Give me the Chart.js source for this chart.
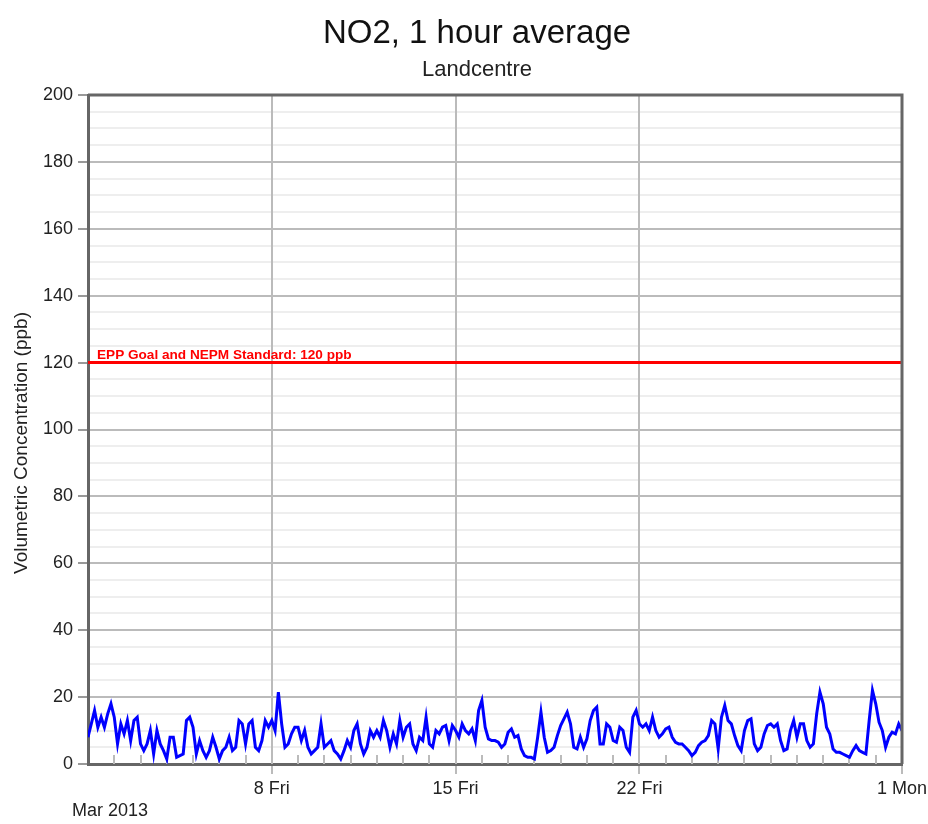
<!DOCTYPE html>
<html>
<head>
<meta charset="utf-8">
<script src="https://cdn.jsdelivr.net/npm/chart.js@4/dist/chart.umd.min.js"></script>
<style>
  body { margin: 0; background: #fff; }
  #wrap { width: 928px; height: 824px; }
</style>
</head>
<body>
<div id="wrap"><canvas id="chart" width="928" height="824"></canvas></div>
<script>
// NO2 readings, one value every 3 hours from 1 Mar 2013 00:00
const stepHours = 3
const totalHours = 744
const no2Values = [
    8,12,16,11,14,11,15,18,14,6, 12,9,13,7,13,14,6,4,6,10, 3,10,6,4,1.5,8,8,2,2.5,3, 13,14,11,3,7,4,2,4,8,5, 1.5,4,5,8,4,5,13,12,6,12,
    13,5,4,7,13,11,13,10,21.5,12, 5,6,9,11,11,7,10,5,3,4, 5,12,5,6,7,4,3,1.5,4,7, 5,10,12,6,3,5,10,8,10,8, 13,10,5,9,6,13,8,11,12,6,
    4,8,7,14,6,5,10,9,11,11.5, 7,11.5,10,8,12,10,9,10.5,7,16, 19,11,7.5,7,7,6.5,5,6,9.5,10.5, 8,8.5,4.5,2.5,2,2,1.5,8,15.5,8, 3.5,4,5,8.5,11.5,13.5,15.5,12,5,4.5,
    8,5,7.5,13,16,17,6,6,12,11, 7,6.5,11,10,5,3.5,14,16,12,11, 12,10,14,10,8,9,10.5,11,8,6.5, 6,6,5,4,2.5,3.5,5.5,6.5,7,8.5, 13,12,4.5,14,17.5,13,12,8.5,5.5,4,
    10,13,13.5,6,4,5,9,11.5,12,11, 12,7,4,4.5,10,13,8,12,12,7, 5,6,15,21.5,18,11,9,4.5,3.5,3.5, 3,2.5,2,4,5.5,4,3.5,3,13,22, 18,12.5,10,5,8,9.5,9,12,10
]
const limitValue = 120
const limitLabel = 'EPP Goal and NEPM Standard: 120 ppb'
const weekTickHours = [168, 336, 504, 744]
const weekTickText = ['8 Fri', '15 Fri', '22 Fri', '1 Mon']
const monthLabel = 'Mar 2013'
const chartTitle = 'NO2, 1 hour average'
const chartSubtitle = 'Landcentre'
const yTitle = 'Volumetric Concentration (ppb)'

const FONT = '"Liberation Sans", Arial, Helvetica, sans-serif'

var seriesPoints = no2Values.map((v, i) => ({x: i * stepHours, y: v}))
var limitPoints = [{x: 0, y: limitValue}, {x: totalHours, y: limitValue}]

var extras = {
    id: 'extras',
    beforeDatasetsDraw(chart) {
        var ctx = chart.ctx, area = chart.chartArea, xs = chart.scales.x
        ctx.save()
        ctx.strokeStyle = '#bbb'
        ctx.lineWidth = 2
        for (var h = 24; h < totalHours; h += 24) {
            var px = Math.round(xs.getPixelForValue(h))
            ctx.beginPath()
            if (weekTickHours.indexOf(h) >= 0) {
                // weekly lines go over the horizontal grid
                ctx.moveTo(px, area.top)
            } else {
                ctx.moveTo(px, area.bottom - 9)
            }
            ctx.lineTo(px, area.bottom)
            ctx.stroke()
        }
        ctx.restore()
    },
    afterDraw(chart) {
        var ctx = chart.ctx, area = chart.chartArea, ys = chart.scales.y
        ctx.save()
        // top and right frame
        ctx.strokeStyle = '#666'
        ctx.lineWidth = 3
        ctx.beginPath()
        ctx.moveTo(area.left, area.top)
        ctx.lineTo(area.right, area.top)
        ctx.lineTo(area.right, area.bottom)
        ctx.stroke()

        ctx.fillStyle = '#ff0000'
        ctx.font = 'bold 13.6px ' + FONT
        ctx.textAlign = 'left'
        ctx.textBaseline = 'alphabetic'
        ctx.fillText(limitLabel, area.left + 9, ys.getPixelForValue(limitValue) - 4)

        ctx.fillStyle = '#222'
        ctx.font = '18px ' + FONT
        ctx.fillText(monthLabel, 72, 816)

        ctx.fillStyle = '#111'
        ctx.textAlign = 'center'
        ctx.font = '33px ' + FONT
        ctx.fillText(chartTitle, 477, 43)
        ctx.fillStyle = '#222'
        ctx.font = '22px ' + FONT
        ctx.fillText(chartSubtitle, 477, 76)

        ctx.translate(22, 443)
        ctx.rotate(-Math.PI / 2)
        ctx.textBaseline = 'middle'
        ctx.font = '19px ' + FONT
        ctx.fillText(yTitle, 0, 0)
        ctx.restore()
    }
}

var chart = new Chart(document.getElementById('chart').getContext('2d'), {
    type: 'line',
    data: {
        datasets: [
            {
                data: seriesPoints,
                borderColor: '#0000ff',
                borderWidth: 3,
                pointRadius: 0,
                tension: 0
            },
            {
                data: limitPoints,
                borderColor: '#ff0000',
                borderWidth: 3,
                pointRadius: 0
            }
        ]
    },
    options: {
        responsive: false,
        animation: false,
        layout: {padding: {top: 95, right: 26, bottom: 0, left: 0}},
        plugins: {legend: {display: false}, tooltip: {enabled: false}, title: {display: false}},
        scales: {
            x: {
                type: 'linear',
                min: 0,
                max: totalHours,
                afterFit: (s) => { s.height = 60; s.paddingLeft = 0; s.paddingRight = 0 },
                afterBuildTicks: (s) => {
                    var t = []
                    for (var h = 0; h <= totalHours; h += 24) t.push({value: h})
                    s.ticks = t
                },
                border: {color: '#666', width: 3},
                grid: {
                    drawOnChartArea: false,
                    tickColor: (c) => weekTickHours.indexOf(c.tick.value) >= 0 ? '#bbb' : 'rgba(0,0,0,0)',
                    lineWidth: 2,
                    tickLength: 10
                },
                ticks: {
                    autoSkip: false,
                    maxRotation: 0,
                    padding: 4,
                    color: '#222',
                    font: {family: FONT, size: 18},
                    callback: (v) => {
                        var i = weekTickHours.indexOf(v)
                        return i >= 0 ? weekTickText[i] : ''
                    }
                }
            },
            y: {
                min: 0,
                max: 200,
                afterFit: (s) => { s.width = 88 },
                border: {color: '#666', width: 3},
                grid: {
                    color: (c) => c.tick.value % 20 === 0 ? '#bbb' : '#eee',
                    tickColor: (c) => c.tick.value % 20 === 0 ? '#999' : 'rgba(0,0,0,0)',
                    lineWidth: 2,
                    tickLength: 10
                },
                ticks: {
                    stepSize: 5,
                    autoSkip: false,
                    padding: 5,
                    color: '#222',
                    font: {family: FONT, size: 18},
                    callback: (v) => v % 20 === 0 ? v : ''
                }
            }
        }
    },
    plugins: [extras]
})
</script>
</body>
</html>
